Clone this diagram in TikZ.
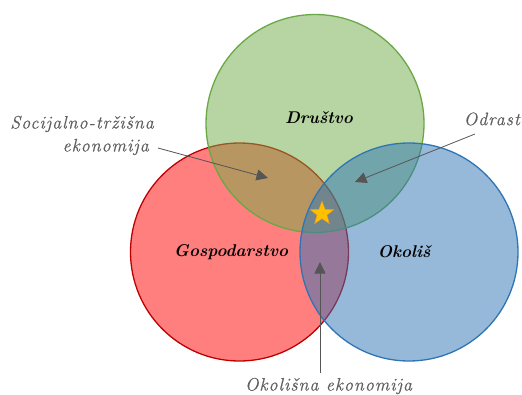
\documentclass[tikz,border=0pt]{standalone}
\usepackage{fontspec}
\setmainfont{Latin Modern Roman}
\newfontfamily\notefont[LetterSpace=5.5,FakeBold=0.5]{Latin Modern Roman}
\usetikzlibrary{arrows.meta,shapes.geometric}
\definecolor{ecored}{RGB}{255,0,0}
\definecolor{ecoredline}{RGB}{192,0,0}
\definecolor{socgreen}{RGB}{112,173,71}
\definecolor{socgreenline}{RGB}{106,168,70}
\definecolor{envblue}{RGB}{46,117,182}
\definecolor{notegray}{RGB}{95,95,95}
\definecolor{arrowgray}{RGB}{85,85,85}
\definecolor{stargold}{RGB}{255,192,0}
\definecolor{staredge}{RGB}{237,150,40}
\tikzset{
  sphere/.style={circle, minimum size=218pt, inner sep=0pt, line width=1.3pt, fill opacity=0.5, draw opacity=1},
  maintext/.style={font=\fontsize{17}{19}\selectfont\bfseries\itshape, text=black},
  notetext/.style={font=\notefont\fontsize{18}{21}\selectfont\itshape, text=notegray, inner sep=1pt},
  pointer/.style={draw=arrowgray, line width=0.8pt, -{Triangle[length=11.5pt,width=11pt]}}
}
\begin{document}
\begin{tikzpicture}[x=1pt,y=-1pt]
  \fill[white] (0,0) rectangle (522,394);
  \useasboundingbox (0,0) rectangle (522,394);

  % the three overlapping spheres
  \node[sphere, fill=ecored, draw=ecoredline] (eco) at (239.5,252) {};
  \node[sphere, fill=socgreen, draw=socgreenline] (soc) at (315,123.5) {};
  \node[sphere, fill=envblue, draw=envblue] (env) at (409,252) {};

  % sustainable core
  \node[star, star points=5, star point ratio=2.4, minimum size=25pt, inner sep=0pt,
        fill=stargold, draw=staredge, line width=0.4pt] (core) at (322,213.5) {};

  % sphere labels
  \node[maintext] (socl) at (319,118) {Društvo};
  \node[maintext] (ecol) at (231,252) {Gospodarstvo};
  \node[maintext] (envl) at (404,252) {Okoliš};

  % intersection notes
  \node[notetext, anchor=east] (sme1) at (155,124) {Socijalno-tržišna};
  \node[notetext, anchor=east] (sme2) at (150,147) {ekonomija};
  \node[notetext, anchor=east] (deg) at (521,119) {Odrast};
  \node[notetext] (ee) at (328.5,386) {Okolišna ekonomija};

  \coordinate (smetip) at (268,178);
  \coordinate (degtip) at (355,182);
  \coordinate (eetip) at (320,262);
  \coordinate (degstart) at (475,134);
  \coordinate (eestart) at (320,373);

  \draw[pointer] (sme2.east) ++(8,1) -- (smetip);
  \draw[pointer] (degstart) -- (degtip);
  \draw[pointer] (eestart) -- (eetip);
\end{tikzpicture}
\end{document}
